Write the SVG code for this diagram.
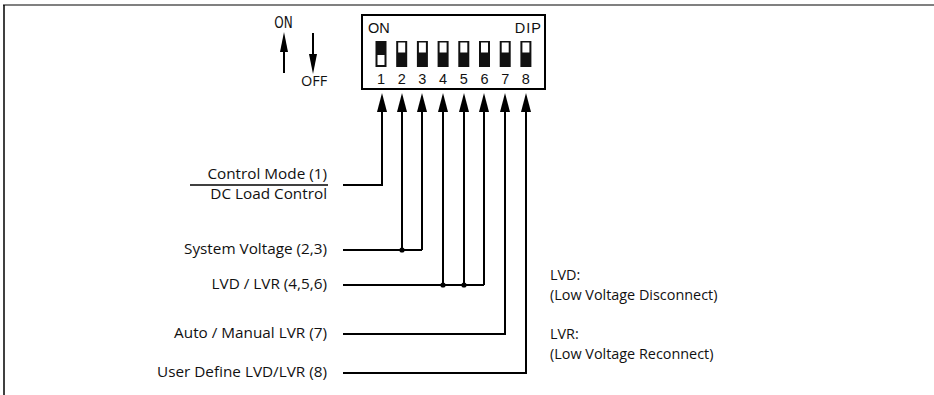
<svg xmlns="http://www.w3.org/2000/svg" width="934" height="395" viewBox="0 0 934 395">
<style>
.ln{stroke:#000;stroke-width:2;fill:none}
.lbl{font-family:"Open Sans","Noto Sans",sans-serif;font-size:15.3px;fill:#111}
.note{font-family:"Open Sans","Noto Sans",sans-serif;font-size:14.4px;fill:#111}
.r{text-anchor:end}
.dip{font-family:"Liberation Sans",Arial,sans-serif;font-size:14.5px;fill:#111}
.sw{fill:#111}
.sq{fill:#fff}
</style>
<defs>
<marker id="ah" markerUnits="userSpaceOnUse" markerWidth="19" markerHeight="10" viewBox="0 0 19 10" refX="7" refY="5" orient="auto">
<path d="M0,0 L19,5 L0,10 z" fill="#000"/>
</marker>
<marker id="ah2" markerUnits="userSpaceOnUse" markerWidth="20" markerHeight="8" viewBox="0 0 20 8" refX="7" refY="4" orient="auto">
<path d="M0,0 L20,4 L0,8 z" fill="#000"/>
</marker>
</defs>
<g id="frame">
<line x1="3" y1="5" x2="934" y2="5" stroke="#808080" stroke-width="2"/>
<line x1="4" y1="5" x2="4" y2="395" stroke="#000" stroke-width="1.5"/>
</g>
<g id="legend">
<text transform="translate(283.5,28) scale(0.75,1)" text-anchor="middle" style="font-family:'DejaVu Sans',sans-serif;font-size:16px;fill:#111">ON</text>
<line x1="284" y1="73" x2="284" y2="45" class="ln" marker-end="url(#ah2)"/>
<line x1="313" y1="33" x2="313" y2="61" class="ln" marker-end="url(#ah2)"/>
<text x="314" y="86" class="lbl" text-anchor="middle" style="font-size:14.5px">OFF</text>
</g>
<g id="dip-switch">
<rect x="362" y="15" width="183" height="74" fill="#fff" stroke="#000" stroke-width="2"/>
<text x="368" y="33" class="dip">ON</text>
<text x="542" y="33" class="dip" text-anchor="end" letter-spacing="1">DIP</text>
<rect class="sw" x="375.5" y="41" width="11" height="26"/>
<rect class="sq" x="377.5" y="55" width="7" height="10"/>
<rect class="sw" x="396.2" y="41" width="11" height="26"/>
<rect class="sq" x="398.2" y="42.5" width="7" height="10"/>
<rect class="sw" x="416.9" y="41" width="11" height="26"/>
<rect class="sq" x="418.9" y="42.5" width="7" height="10"/>
<rect class="sw" x="437.6" y="41" width="11" height="26"/>
<rect class="sq" x="439.6" y="42.5" width="7" height="10"/>
<rect class="sw" x="458.3" y="41" width="11" height="26"/>
<rect class="sq" x="460.3" y="42.5" width="7" height="10"/>
<rect class="sw" x="479" y="41" width="11" height="26"/>
<rect class="sq" x="481" y="42.5" width="7" height="10"/>
<rect class="sw" x="499.7" y="41" width="11" height="26"/>
<rect class="sq" x="501.7" y="42.5" width="7" height="10"/>
<rect class="sw" x="520.4" y="41" width="11" height="26"/>
<rect class="sq" x="522.4" y="42.5" width="7" height="10"/>
<g class="dip" text-anchor="middle">
<text x="381" y="84">1</text>
<text x="401.7" y="84">2</text>
<text x="422.4" y="84">3</text>
<text x="443.1" y="84">4</text>
<text x="463.8" y="84">5</text>
<text x="484.5" y="84">6</text>
<text x="505.2" y="84">7</text>
<text x="525.9" y="84">8</text>
</g>
</g>
<g id="connectors">
<polyline class="ln" points="343,185 382,185 382,105" marker-end="url(#ah)"/>
<line class="ln" x1="343" y1="250" x2="422" y2="250"/>
<line class="ln" x1="402" y1="251" x2="402" y2="105" marker-end="url(#ah)"/>
<polyline class="ln" points="422,250 422,105" marker-end="url(#ah)"/>
<line class="ln" x1="343" y1="285" x2="484" y2="285"/>
<line class="ln" x1="443" y1="286" x2="443" y2="105" marker-end="url(#ah)"/>
<line class="ln" x1="464" y1="286" x2="464" y2="105" marker-end="url(#ah)"/>
<polyline class="ln" points="484,285 484,105" marker-end="url(#ah)"/>
<polyline class="ln" points="343,334 505,334 505,105" marker-end="url(#ah)"/>
<polyline class="ln" points="343,373 526,373 526,105" marker-end="url(#ah)"/>
<circle cx="402" cy="250" r="2.6" fill="#000"/>
<circle cx="443" cy="285" r="2.6" fill="#000"/>
<circle cx="464" cy="285" r="2.6" fill="#000"/>
</g>
<g id="label-control-mode">
<text x="327" y="179" class="lbl r">Control Mode (1)</text>
<line x1="190" y1="185" x2="328" y2="185" stroke="#000" stroke-width="1.5"/>
<text x="327" y="199" class="lbl r">DC Load Control</text>
</g>
<g id="label-system-voltage">
<text x="327" y="254" class="lbl r">System Voltage (2,3)</text>
</g>
<g id="label-lvd-lvr">
<text x="327" y="289" class="lbl r">LVD / LVR (4,5,6)</text>
</g>
<g id="label-auto-manual">
<text x="327" y="338" class="lbl r">Auto / Manual LVR (7)</text>
</g>
<g id="label-user-define">
<text x="327" y="377" class="lbl r">User Define LVD/LVR (8)</text>
</g>
<g id="notes">
<text x="550" y="280" class="note">LVD:</text>
<text x="550" y="300" class="note">(Low Voltage Disconnect)</text>
<text x="550" y="339" class="note">LVR:</text>
<text x="550" y="359" class="note">(Low Voltage Reconnect)</text>
</g>
</svg>
